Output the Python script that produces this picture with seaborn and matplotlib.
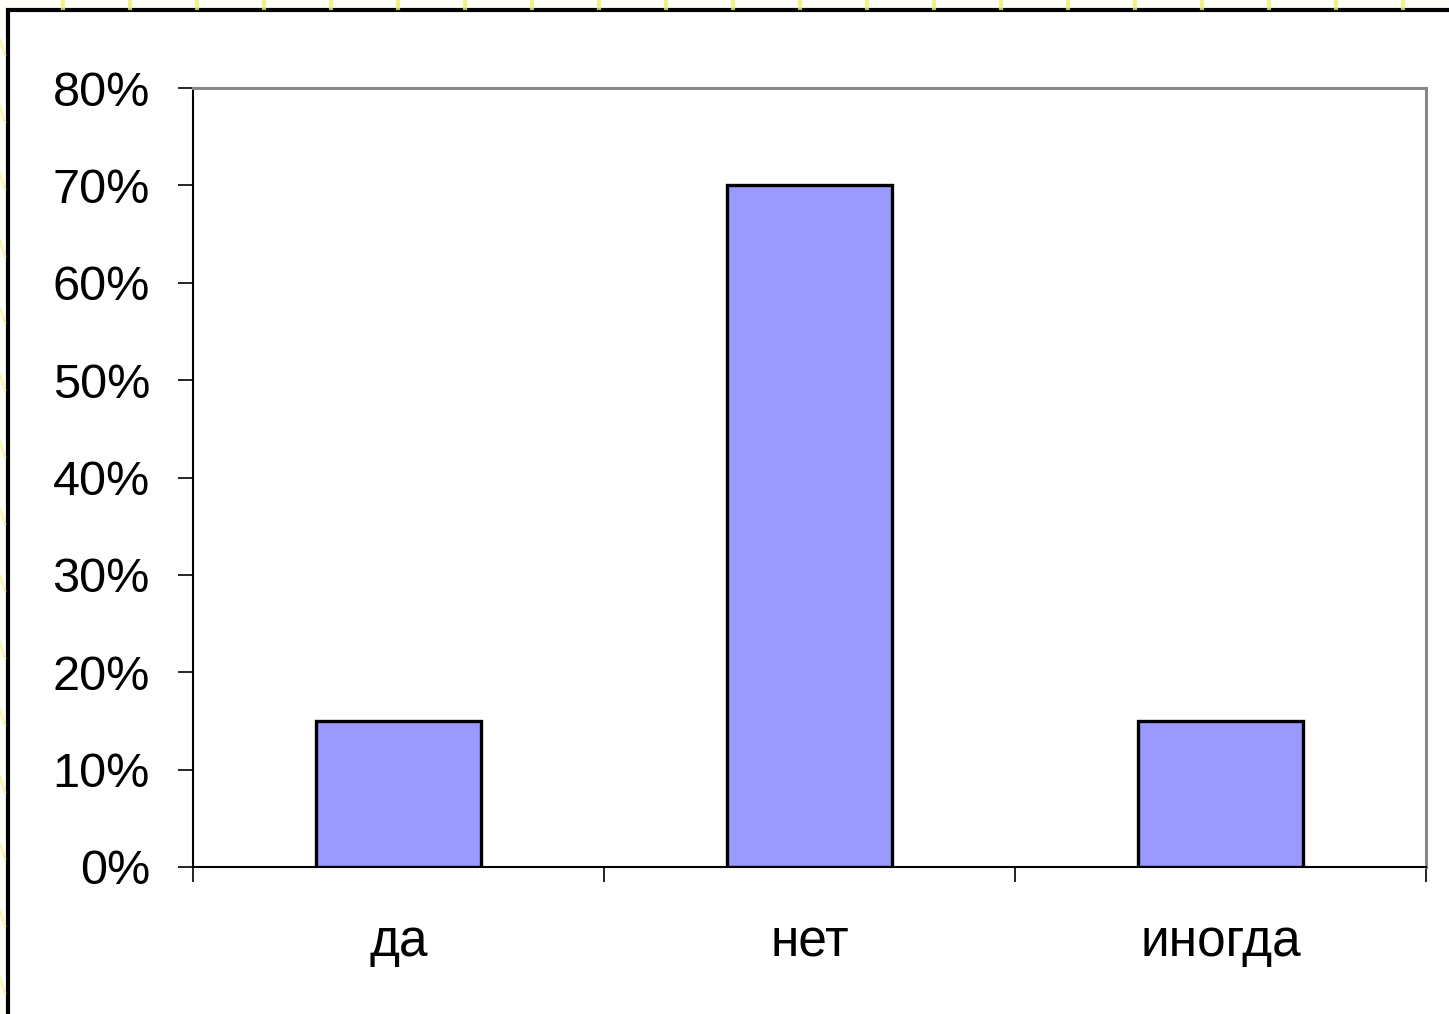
import matplotlib
matplotlib.use("Agg")
import matplotlib.pyplot as plt
import seaborn as sns
import pandas as pd
from matplotlib.ticker import PercentFormatter, FixedLocator
from matplotlib.patches import Rectangle
from matplotlib.lines import Line2D

categories = ["да", "нет", "иногда"]
values = [0.15, 0.70, 0.15]
y_ticks = [0.0, 0.1, 0.2, 0.3, 0.4, 0.5, 0.6, 0.7, 0.8]

plt.rcParams['font.family'] = ['Liberation Sans', 'DejaVu Sans']

W, H = 1449, 1014
fig = plt.figure(figsize=(W / 100, H / 100), dpi=100)
fig.patch.set_facecolor("#fffff8")

# decorative yellow dashes outside the frame
for x in range(63, W, 67):
    fig.add_artist(Line2D([x / W, x / W], [1 - 0 / H, 1 - 8 / H], transform=fig.transFigure,
                          color="#eeee70", lw=3, alpha=0.8))
for y in range(40, H, 67):
    fig.add_artist(Line2D([0, 5 / W], [1 - y / H, 1 - (y + 15) / H], transform=fig.transFigure,
                          color="#eeee70", lw=2, alpha=0.5))

# white card with black border (left and top edges visible)
fig.add_artist(Rectangle((8 / W, -0.1), 1.2, 1 - 10 / H + 0.1, transform=fig.transFigure,
                         facecolor="white", edgecolor="black", lw=3, zorder=0))

ax = fig.add_axes([193 / W, 1 - 867 / H, (1426 - 193) / W, (867 - 88) / H])
ax.set_facecolor("white")

df = pd.DataFrame({"cat": categories, "val": values})
sns.barplot(data=df, x="cat", y="val", color="#9999FF", saturation=1, width=0.4,
            edgecolor="black", linewidth=2.4, ax=ax, zorder=3)

ax.set_xlim(-0.5, 2.5)
ax.set_ylim(0, 0.8)
ax.yaxis.set_major_locator(FixedLocator(y_ticks))
ax.yaxis.set_major_formatter(PercentFormatter(xmax=1, decimals=0))
ax.set_xlabel("")
ax.set_ylabel("")

ax.xaxis.set_major_locator(FixedLocator([0, 1, 2]))
ax.set_xticklabels(categories)
ax.xaxis.set_minor_locator(FixedLocator([-0.5, 0.5, 1.5, 2.5]))
ax.tick_params(axis="x", which="major", length=0, pad=37, labelsize=37)
ax.tick_params(axis="x", which="minor", length=11, width=1.2, direction="out", color="black")
ax.tick_params(axis="y", which="major", length=11, width=1.2, direction="out", pad=20,
               labelsize=35, color="black")

for side in ["left", "bottom"]:
    ax.spines[side].set_color("black")
    ax.spines[side].set_linewidth(1.5)
for side in ["top", "right"]:
    ax.spines[side].set_color("#888888")
    ax.spines[side].set_linewidth(2.2)
    ax.spines[side].set_visible(True)

fig.savefig("out.png", dpi=100, facecolor=fig.get_facecolor())
